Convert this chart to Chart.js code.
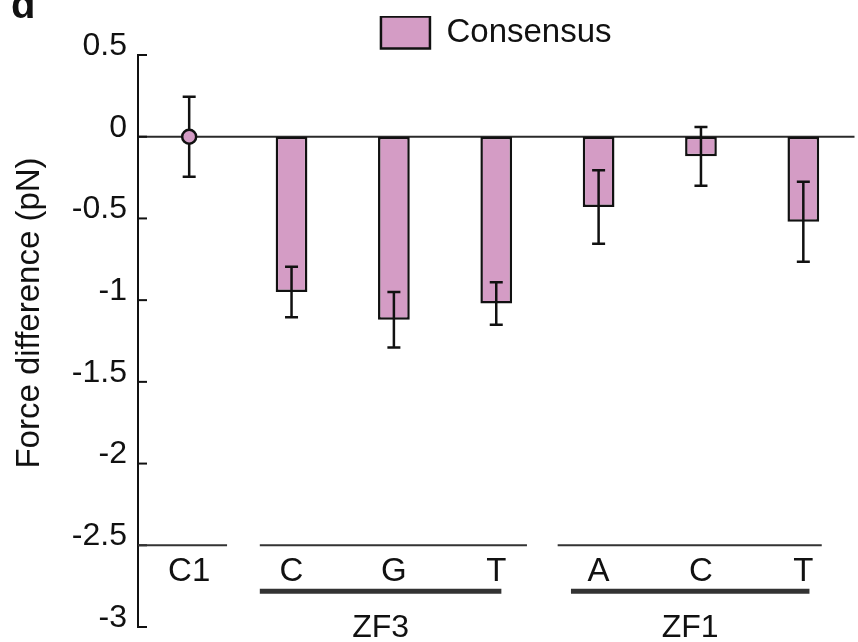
<!DOCTYPE html>
<html>
<head>
<meta charset="utf-8">
<script src="https://cdn.jsdelivr.net/npm/chart.js@4.4.1/dist/chart.umd.min.js"></script>
<style>
  html, body { margin: 0; padding: 0; background: #fff; overflow: hidden; }
  #wrap { width: 864px; height: 642px; }
</style>
</head>
<body>
<div id="wrap"><canvas id="mycanvas" width="864" height="642"></canvas></div>
<script>
// data
var categories = ['C1', 'C', 'G', 'T', 'A', 'C', 'T'];
var consensusValues = [null, -0.95, -1.12, -1.02, -0.43, -0.12, -0.52];
var consensusErrors = [null, 0.155, 0.17, 0.13, 0.225, 0.18, 0.245];
var controlValues = [0, null, null, null, null, null, null];
var controlErrors = [0.245, null, null, null, null, null, null];
var yTicks = [0.5, 0, -0.5, -1, -1.5, -2, -2.5, -3];
var groupNames = ['ZF3', 'ZF1'];
var groupFirst = [1, 4];
var groupLast = [3, 6];
var yTitle = 'Force difference (pN)';
var panelLetter = 'd';

var FONT = "'Liberation Sans', Arial, sans-serif";
var INK = '#111';
var PINK = '#d49cc5';

// error bars, zero line, inward ticks, brackets and labels
var extras = {
  id: 'extras',
  beforeDatasetsDraw: function(chart) {
    var ctx = chart.ctx, area = chart.chartArea, y = chart.scales.y;
    var y0 = y.getPixelForValue(0);
    ctx.save();
    ctx.strokeStyle = '#2a2a2a';
    ctx.lineWidth = 2;
    ctx.beginPath();
    ctx.moveTo(area.left, y0);
    ctx.lineTo(area.right, y0);
    ctx.stroke();
    ctx.restore();
  },
  afterDatasetDraw: function(chart, args) {
    if (args.index === 0) drawErrors(chart, 0);
  },
  beforeDatasetDraw: function(chart, args) {
    if (args.index === 1) drawErrors(chart, 1);
  },
  afterDraw: function(chart) {
    var ctx = chart.ctx, area = chart.chartArea, x = chart.scales.x, y = chart.scales.y;
    ctx.save();
    // inward ticks
    ctx.strokeStyle = INK;
    ctx.lineWidth = 2;
    yTicks.forEach(function(v) {
      var py = y.getPixelForValue(v);
      ctx.beginPath();
      ctx.moveTo(area.left, py);
      ctx.lineTo(area.left + 9, py);
      ctx.stroke();
    });
    var step = x.getPixelForValue(1) - x.getPixelForValue(0);
    var base = y.getPixelForValue(-2.5);
    // thin bracket lines
    ctx.strokeStyle = '#333';
    ctx.lineWidth = 2;
    ctx.beginPath();
    ctx.moveTo(area.left, base);
    ctx.lineTo(x.getPixelForValue(0) + 0.37 * step, base);
    var thinPad = [[0.31, 0.3], [0.4, 0.18]];
    var thickPad = [[0.31, 0.05], [0.27, 0.06]];
    for (var g = 0; g < groupNames.length; g++) {
      ctx.moveTo(x.getPixelForValue(groupFirst[g]) - thinPad[g][0] * step, base);
      ctx.lineTo(x.getPixelForValue(groupLast[g]) + thinPad[g][1] * step, base);
    }
    ctx.stroke();
    // thick group bars and names
    ctx.lineWidth = 5;
    ctx.fillStyle = INK;
    ctx.font = '32px ' + FONT;
    ctx.textAlign = 'center';
    ctx.textBaseline = 'middle';
    for (g = 0; g < groupNames.length; g++) {
      var x1 = x.getPixelForValue(groupFirst[g]) - thickPad[g][0] * step;
      var x2 = x.getPixelForValue(groupLast[g]) + thickPad[g][1] * step;
      ctx.beginPath();
      ctx.moveTo(x1, base + 46);
      ctx.lineTo(x2, base + 46);
      ctx.stroke();
      ctx.fillText(groupNames[g], (x1 + x2) / 2, base + 83);
    }
    // y title
    ctx.save();
    ctx.translate(30, 313);
    ctx.rotate(-Math.PI / 2);
    ctx.font = '33px ' + FONT;
    ctx.fillText(yTitle, 0, 0);
    ctx.restore();
    // panel letter
    ctx.textAlign = 'left';
    ctx.textBaseline = 'alphabetic';
    ctx.font = 'bold 40px ' + FONT;
    ctx.fillText(panelLetter, 11, 18);
    ctx.restore();
  }
};

function drawErrors(chart, dsIndex) {
  var ctx = chart.ctx;
  var ds = chart.data.datasets[dsIndex];
  var x = chart.scales.x, y = chart.scales.y;
  ctx.save();
  ctx.strokeStyle = INK;
  ctx.lineWidth = 2.5;
  for (var i = 0; i < ds.data.length; i++) {
    if (ds.data[i] === null || ds.errorBars[i] === null) continue;
    var px = x.getPixelForValue(i);
    var top = y.getPixelForValue(ds.data[i] + ds.errorBars[i]);
    var bot = y.getPixelForValue(ds.data[i] - ds.errorBars[i]);
    ctx.beginPath();
    ctx.moveTo(px, top); ctx.lineTo(px, bot);
    ctx.moveTo(px - 6.5, top); ctx.lineTo(px + 6.5, top);
    ctx.moveTo(px - 6.5, bot); ctx.lineTo(px + 6.5, bot);
    ctx.stroke();
  }
  ctx.restore();
}

var ctx = document.getElementById('mycanvas');

var chart = new Chart(ctx, {
  type: 'bar',
  data: {
    labels: categories,
    datasets: [{
      type: 'bar',
      label: 'Consensus',
      data: consensusValues,
      errorBars: consensusErrors,
      backgroundColor: PINK,
      borderColor: INK,
      borderWidth: 2.5,
      borderSkipped: false,
      barPercentage: 0.31,
      categoryPercentage: 1,
      order: 1
    }, {
      type: 'line',
      label: 'C1',
      data: controlValues,
      errorBars: controlErrors,
      showLine: false,
      pointRadius: 7,
      pointBackgroundColor: PINK,
      pointBorderColor: INK,
      pointBorderWidth: 2.5,
      order: 0
    }]
  },
  plugins: [extras],
  options: {
    responsive: false,
    animation: false,
    layout: { padding: { top: 16, bottom: 15, left: 0, right: 0 } },
    plugins: {
      tooltip: { enabled: false },
      legend: {
        fullSize: false,
        maxHeight: 39,
        labels: {
          filter: function(item) { return item.datasetIndex === 0; },
          boxWidth: 49,
          boxHeight: 32,
          padding: 0,
          color: INK,
          font: { family: FONT, size: 33 }
        }
      }
    },
    scales: {
      x: {
        position: { y: -2.5 },
        offset: true,
        grid: { display: false, drawTicks: false },
        border: { display: false },
        ticks: {
          autoSkip: false,
          maxRotation: 0,
          padding: 7,
          color: INK,
          font: { family: FONT, size: 33 }
        },
        afterFit: function(scale) { scale.paddingLeft = 0; scale.paddingRight = 0; }
      },
      y: {
        min: -3,
        max: 0.5,
        afterBuildTicks: function(scale) {
          scale.ticks = yTicks.map(function(v) { return { value: v }; });
        },
        afterFit: function(scale) {
          scale.width = 138;
          scale.paddingTop = 0;
          scale.paddingBottom = 0;
        },
        grid: { display: false, drawTicks: false },
        border: { display: true, color: INK, width: 2 },
        ticks: {
          padding: 11,
          labelOffset: -9,
          color: INK,
          font: { family: FONT, size: 32 },
          callback: function(v) { return String(v); }
        }
      }
    }
  }
});
</script>
</body>
</html>
